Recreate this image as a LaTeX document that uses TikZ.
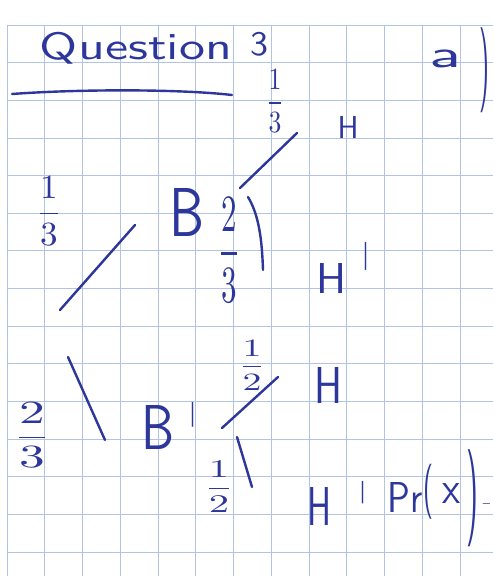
\documentclass[tikz,border=0pt]{standalone}
\usepackage{graphicx}
\definecolor{pen}{RGB}{45,55,155}
\definecolor{gridc}{RGB}{178,196,230}
\newcommand{\hw}[3]{\resizebox*{#1pt}{#2pt}{#3}}
\begin{document}
\begin{tikzpicture}[x=1pt,y=-1pt,
  hw/.style={inner sep=0pt,outer sep=0pt,text=pen,font=\sffamily},
  primemark/.style={hw,anchor=north},
  stroke/.style={draw=pen,line width=2.4pt,line cap=round}]
\useasboundingbox (0,0) rectangle (493,576);
\fill[white] (0,0) rectangle (493,576);
% grid paper
\foreach \i in {0,...,12} \draw[gridc,line width=0.9pt] ({7+37.75*\i},25) -- ({7+37.75*\i},576);
\foreach \j in {0,...,14} \draw[gridc,line width=0.9pt] (7,{25+37.65*\j}) -- (493,{25+37.65*\j});
% heading
\node[hw] (title) at (136,48) {\hw{192}{32}{Question}};
\node[hw] (num) at (259,44) {\hw{18}{24}{3}};
\coordinate (ul1) at (12,94);
\coordinate (ul2) at (232,95);
\draw[stroke] (ul1) .. controls (80,89) and (180,89) .. (ul2);
\node[hw] (parta) at (446,59) {\hw{32}{18}{a}};
\node[hw] (partp) at (484,70) {\hw{10}{85}{)}};
% first level
\node[hw] (f2) at (49,211) {\hw{26}{68}{$\displaystyle\frac{1}{3}$}};
\node[hw] (f4) at (32,435) {\hw{38}{65}{$\displaystyle\frac{2}{3}$}};
\node[hw] (B) at (187,212) {\hw{35}{48}{B}};
\node[hw] (B2) at (158,427) {\hw{33}{44}{B}};
\node[primemark] (B2p) at (193,402) {\hw{5}{62}{\textquotesingle}};
\coordinate (l1a) at (60,310);
\coordinate (l1b) at (135,225);
\coordinate (l2a) at (68,357);
\coordinate (l2b) at (105,440);
\draw[stroke] (l1a) -- (l1b);
\draw[stroke] (l2a) -- (l2b);
% second level from B
\node[hw] (f1) at (275,101) {\hw{19}{62}{$\displaystyle\frac{1}{3}$}};
\node[hw] (f3) at (229,250) {\hw{23}{105}{$\displaystyle\frac{2}{3}$}};
\node[hw] (H1) at (348,127) {\hw{21}{22}{H}};
\node[hw] (H2) at (332,278) {\hw{30}{30}{H}};
\node[primemark] (H2p) at (366,242) {\hw{5}{70}{\textquotesingle}};
\coordinate (l3a) at (240,188);
\coordinate (l3b) at (297,133);
\coordinate (l4a) at (248,197);
\coordinate (l4b) at (263,270);
\draw[stroke] (l3a) -- (l3b);
\draw[stroke] (l4a) .. controls (259,215) and (262,240) .. (l4b);
% second level from B'
\node[hw] (f5) at (252,365) {\hw{28}{50}{$\displaystyle\frac{1}{2}$}};
\node[hw] (f6) at (219,487) {\hw{30}{51}{$\displaystyle\frac{1}{2}$}};
\node[hw] (H3) at (329,385) {\hw{28}{36}{H}};
\node[hw] (H4) at (320,506) {\hw{24}{38}{H}};
\node[primemark] (H4p) at (363,481) {\hw{5}{56}{\textquotesingle}};
\coordinate (l5a) at (222,428);
\coordinate (l5b) at (278,377);
\coordinate (l6a) at (237,437);
\coordinate (l6b) at (252,487);
\draw[stroke] (l5a) -- (l5b);
\draw[stroke] (l6a) -- (l6b);
% Pr(x)
\node[hw] (pr) at (405,497) {\hw{35}{30}{Pr}};
\node[hw] (lp) at (428,492) {\hw{10}{55}{(}};
\node[hw] (xx) at (451,493) {\hw{18}{20}{x}};
\node[hw] (rp) at (472,498) {\hw{12}{97}{)}};
\node[hw] (dash) at (487,505) {\hw{9}{3}{-}};
\end{tikzpicture}
\end{document}
